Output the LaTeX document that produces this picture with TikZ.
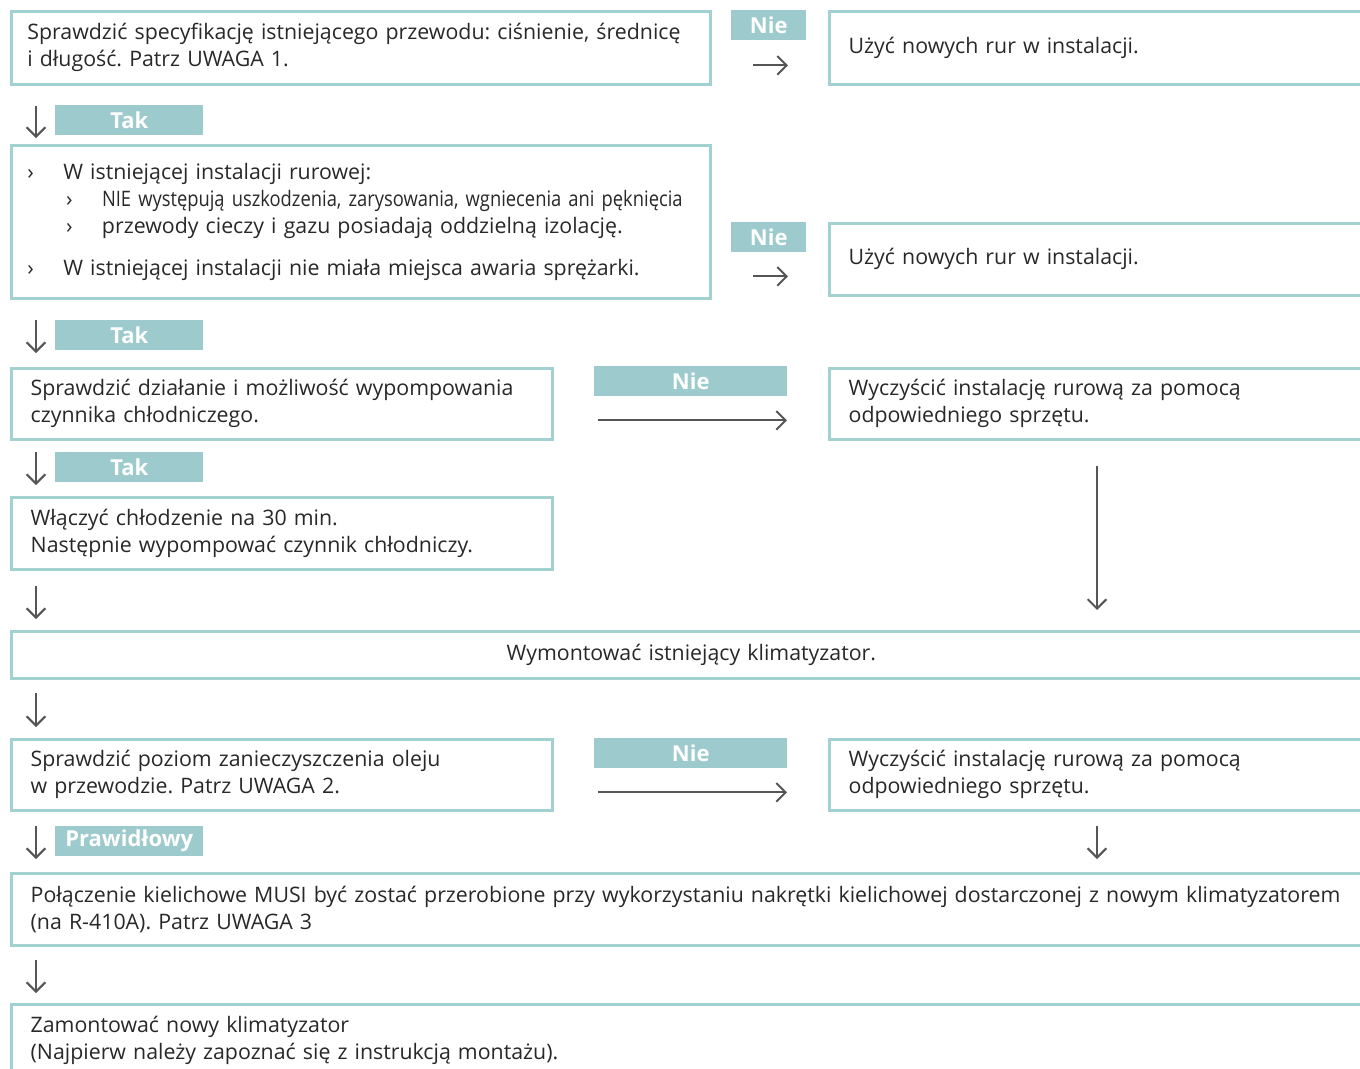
\documentclass[tikz,border=0pt]{standalone}
\usepackage{fontspec}
\setmainfont{Open Sans}
\newfontfamily\waskie[FakeStretch=0.86]{Open Sans}
\usepackage{tikz}
\usetikzlibrary{positioning, arrows.meta, calc}
\definecolor{morski}{RGB}{157, 203, 205}
\definecolor{ramka}{RGB}{163, 208, 209}
\definecolor{grafit}{RGB}{85, 85, 85}
\definecolor{tekst}{RGB}{40, 40, 40}
\frenchspacing

\begin{document}
\begin{tikzpicture}[x=0.75pt, y=-0.75pt,
    font=\fontsize{16}{20.25}\selectfont, text=tekst,
    krok/.style={draw=ramka, line width=2pt, anchor=north west, align=left,
      inner xsep=14.5pt, inner ysep=0pt},
    etykieta/.style={fill=morski, anchor=north west, text=white, inner sep=0pt,
      font=\fontsize{16.5}{18}\selectfont\bfseries},
    strzalka/.style={draw=grafit, line width=1.5pt,
      -{Straight Barb[length=7pt, width=14pt]}}]
    \useasboundingbox (0,0) rectangle (1360,1068);
    \clip (0,0) rectangle (1360,1068);
    % kolumna lewa
    \node[krok, inner xsep=12pt, text width=500.25pt, minimum height=54.75pt] (b1) at (10,10)
      {Sprawdzić specyfikację istniejącego przewodu: ciśnienie, średnicę\\ i długość. Patrz UWAGA 1.};
    \node[krok, inner xsep=12pt, text width=500.25pt, minimum height=114.75pt] (b2) at (10,144)
      {\makebox[27pt][l]{›}W istniejącej instalacji rurowej:\\
       \hspace*{29pt}\makebox[27pt][l]{›}{\waskie NIE występują uszkodzenia, zarysowania, wgniecenia ani pęknięcia}\\
       \hspace*{29pt}\makebox[27pt][l]{›}przewody cieczy i gazu posiadają oddzielną izolację.\\[11pt]
       \makebox[27pt][l]{›}W istniejącej instalacji nie miała miejsca awaria sprężarki.};
    \node[krok, text width=376.75pt, minimum height=53.25pt] (b3) at (10,367)
      {Sprawdzić działanie i możliwość wypompowania\\ czynnika chłodniczego.};
    \node[krok, text width=376.75pt, minimum height=54pt] (b4) at (10,496)
      {Włączyć chłodzenie na 30 min.\\ Następnie wypompować czynnik chłodniczy.};
    \node[krok, align=center, text width=991pt, minimum height=35.25pt] (b5) at (10,630)
      {Wymontować istniejący klimatyzator.};
    \node[krok, text width=376.75pt, minimum height=53.25pt] (b6) at (10,738)
      {Sprawdzić poziom zanieczyszczenia oleju\\ w przewodzie. Patrz UWAGA 2.};
    \node[krok, text width=991pt, minimum height=54pt] (b7) at (10,872)
      {Połączenie kielichowe MUSI być zostać przerobione przy wykorzystaniu nakrętki kielichowej dostarczonej z nowym klimatyzatorem\\ (na R-410A). Patrz UWAGA 3};
    \node[krok, text width=991pt, minimum height=54pt] (b8) at (10,1003)
      {Zamontować nowy klimatyzator\\ (Najpierw należy zapoznać się z instrukcją montażu).};
    % kolumna prawa
    \node[krok, text width=385pt, minimum height=54.75pt] (r1) at (828,10) {Użyć nowych rur w instalacji.};
    \node[krok, text width=385pt, minimum height=54pt] (r2) at (828,222) {Użyć nowych rur w instalacji.};
    \node[krok, text width=385pt, minimum height=53.25pt] (r3) at (828,367)
      {Wyczyścić instalację rurową za pomocą\\ odpowiedniego sprzętu.};
    \node[krok, text width=385pt, minimum height=53.25pt] (r4) at (828,738)
      {Wyczyścić instalację rurową za pomocą\\ odpowiedniego sprzętu.};
    % etykiety
    \node[etykieta, minimum width=111pt, minimum height=22.5pt] (tak1) at (55,105) {Tak};
    \node[etykieta, minimum width=111pt, minimum height=22.5pt] (tak2) at (55,320) {Tak};
    \node[etykieta, minimum width=111pt, minimum height=22pt] (tak3) at (55,452) {Tak};
    \node[etykieta, minimum width=111pt, minimum height=22pt] (praw) at (55,826) {Prawidłowy};
    \node[etykieta, minimum width=56.25pt, minimum height=22.5pt] (nie1) at (731,10) {Nie};
    \node[etykieta, minimum width=56.25pt, minimum height=22pt] (nie2) at (731,222) {Nie};
    \node[etykieta, minimum width=144.75pt, minimum height=22pt] (nie3) at (594,366) {Nie};
    \node[etykieta, minimum width=144.75pt, minimum height=22pt] (nie4) at (594,738) {Nie};
    % strzałki w dół
    \draw[strzalka] ($(b1.south west)+(26,20)$) -- ($(b2.north west)+(26,-6)$);
    \draw[strzalka] ($(b2.south west)+(26,20)$) -- ($(b3.north west)+(26,-14)$);
    \draw[strzalka] ($(b3.south west)+(26,11)$) -- ($(b4.north west)+(26,-11)$);
    \draw[strzalka] ($(b4.south west)+(26,15)$) -- ($(b5.north west)+(26,-11)$);
    \draw[strzalka] ($(b5.south west)+(26,13)$) -- ($(b6.north west)+(26,-11)$);
    \draw[strzalka] ($(b6.south west)+(26,14)$) -- ($(b7.north west)+(26,-13)$);
    \draw[strzalka] ($(b7.south west)+(26,13)$) -- ($(b8.north west)+(26,-10)$);
    \draw[strzalka] ($(r3.south west)+(269,25)$) -- ($(r3.south west |- b5.north)+(269,-20)$);
    \draw[strzalka] ($(r4.south west)+(269,14)$) -- ($(r4.south west |- b7.north)+(269,-13)$);
    % strzałki w prawo
    \draw[strzalka] ($(b1.east)+(41,17.5)$) -- ($(r1.west)+(-40,17.5)$);
    \draw[strzalka] ($(b2.east |- r2.west)+(41,17)$) -- ($(r2.west)+(-40,17)$);
    \draw[strzalka] ($(b3.east)+(44,16.5)$) -- ($(r3.west)+(-41,16.5)$);
    \draw[strzalka] ($(b6.east)+(44,17.5)$) -- ($(r4.west)+(-41,17.5)$);
  \end{tikzpicture}
\end{document}
